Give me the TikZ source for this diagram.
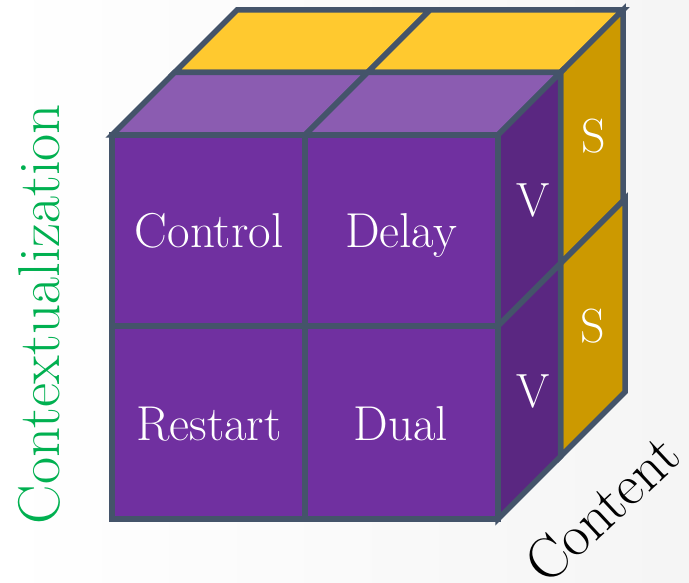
\documentclass[tikz,border=0pt]{standalone}
\definecolor{edge}{HTML}{44546A}
\definecolor{frontpurple}{HTML}{7030A0}
\definecolor{toppurple}{HTML}{8B5CB1}
\definecolor{sidepurple}{HTML}{5A2781}
\definecolor{topyellow}{HTML}{FFC92F}
\definecolor{sideyellow}{HTML}{CC9900}
\definecolor{axisgreen}{HTML}{00B050}
\tikzset{
  face/.style={draw=edge, line width=5.5pt, line join=miter},
  celltext/.style={text=white, font=\fontsize{49}{58}\selectfont, inner sep=0pt},
  sidetext/.style={text=white, font=\fontsize{48}{56}\selectfont, inner sep=0pt},
  axistext/.style={inner sep=0pt}
}
\begin{document}
\begin{tikzpicture}[x=1pt, y=-1pt]
\useasboundingbox (0,0) rectangle (689,583);
% faint grey wash towards the right edge
\shade[left color=white, middle color=white, right color=black!4] (0,0) rectangle (689,583);

% back layer: yellow tops and sides
\filldraw[face, fill=topyellow] (174.5,72.5) -- (367.5,72.5) -- (430,10) -- (237,10) -- cycle;
\filldraw[face, fill=topyellow] (367.5,72.5) -- (560.5,72.5) -- (623,10) -- (430,10) -- cycle;
\filldraw[face, fill=sideyellow] (560.5,72.5) -- (623,10) -- (623,201) -- (560.5,263.5) -- cycle;
\filldraw[face, fill=sideyellow] (560.5,263.5) -- (625,199) -- (625,392) -- (560.5,456.5) -- cycle;

% front layer: purple tops and sides
\filldraw[face, fill=toppurple] (112,135) -- (305,135) -- (367.5,72.5) -- (174.5,72.5) -- cycle;
\filldraw[face, fill=toppurple] (305,135) -- (498,135) -- (560.5,72.5) -- (367.5,72.5) -- cycle;
\filldraw[face, fill=sidepurple] (498,135) -- (560.5,72.5) -- (560.5,263.5) -- (498,326) -- cycle;
\filldraw[face, fill=sidepurple] (498,326) -- (560.5,263.5) -- (560.5,456.5) -- (498,519) -- cycle;

% front faces
\filldraw[face, fill=frontpurple] (112,135) rectangle (305,326);
\filldraw[face, fill=frontpurple] (305,135) rectangle (498,326);
\filldraw[face, fill=frontpurple] (112,326) rectangle (305,519);
\filldraw[face, fill=frontpurple] (305,326) rectangle (498,519);

% labels on the faces
\node[celltext] (control) at (209,231) {Control};
\node[celltext] (delay) at (401,235) {Delay};
\node[celltext] (restart) at (209,424) {Restart};
\node[celltext] (dual) at (401,424) {Dual};
\node[sidetext] (v1) at (533,200) {V};
\node[sidetext] (v2) at (533,391) {V};
\node[sidetext] (s1) at (594,136) {S};
\node[sidetext] (s2) at (593,326) {S};

% axis names
\node[axistext, font=\fontsize{59}{70}\selectfont, text=axisgreen, rotate=90] (ctx) at (39,314) {Contextualization};
\node[axistext, font=\fontsize{58}{68}\selectfont, text=black, rotate=43] (content) at (602,509) {Content};
\end{tikzpicture}
\end{document}
